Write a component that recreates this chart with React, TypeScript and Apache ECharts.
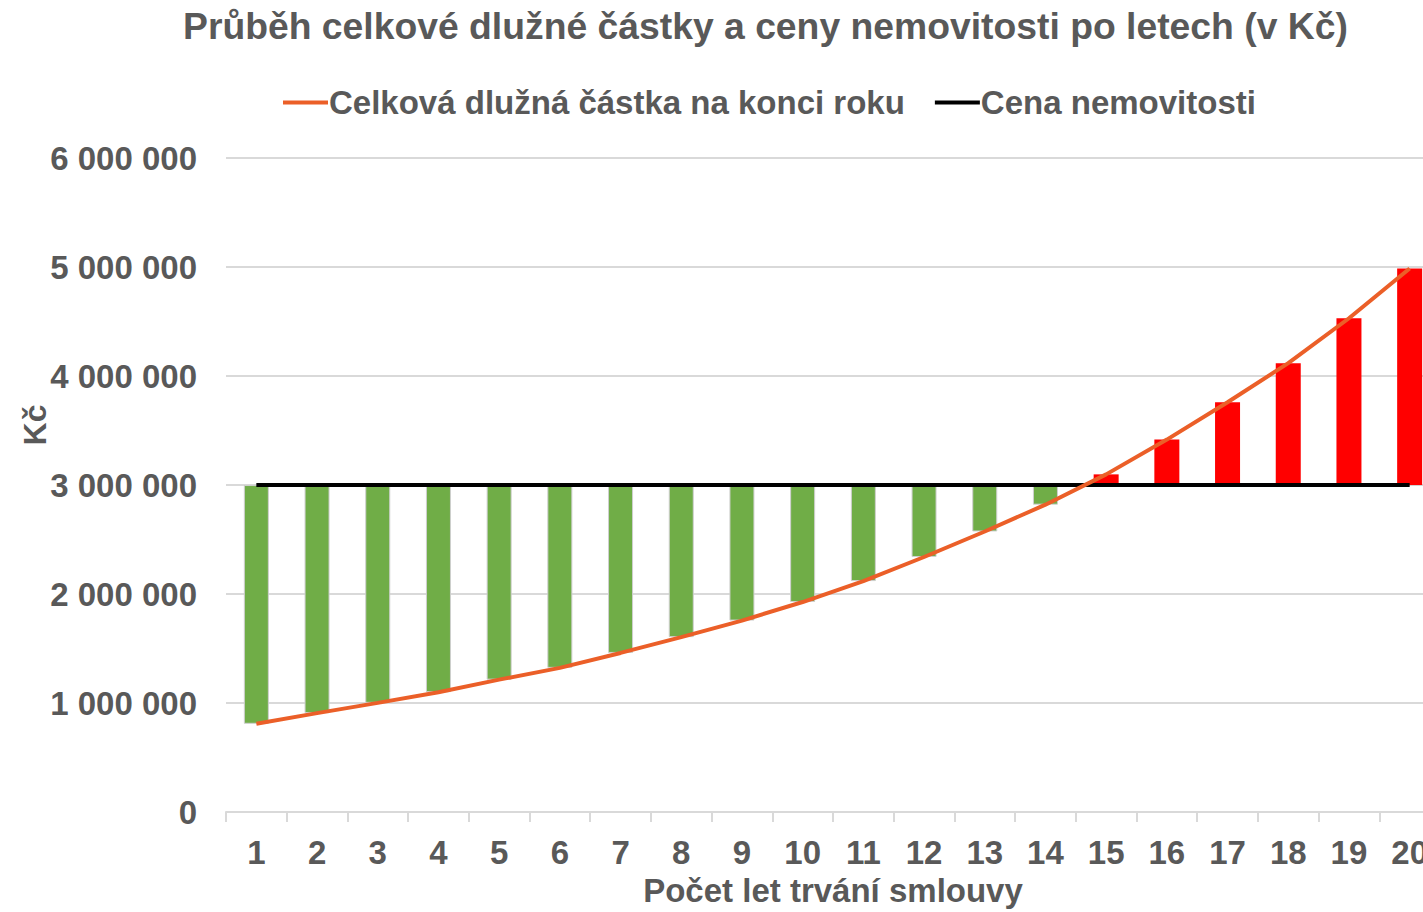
import React, { useEffect, useRef } from "react";
import * as echarts from "echarts";

const years = ["1","2","3","4","5","6","7","8","9","10","11","12","13","14","15","16","17","18","19","20"];
const debt = [810000, 908000, 1002000, 1100000, 1215000, 1323000, 1460000, 1605000, 1757000, 1927000, 2119000, 2340000, 2574000, 2820000, 3098000, 3417000, 3760000, 4118000, 4530000, 4987000];
const propertyPrice = [3000000, 3000000, 3000000, 3000000, 3000000, 3000000, 3000000, 3000000, 3000000, 3000000, 3000000, 3000000, 3000000, 3000000, 3000000, 3000000, 3000000, 3000000, 3000000, 3000000];
const yTicks = [0, 1000000, 2000000, 3000000, 4000000, 5000000, 6000000];

const titleText = "Průběh celkové dlužné částky a ceny nemovitosti po letech (v Kč)";
const debtName = "Celková dlužná částka na konci roku";
const priceName = "Cena nemovitosti";
const xName = "Počet let trvání smlouvy";
const yName = "Kč";

const FONT = "'Liberation Sans', Arial, sans-serif";
const TXT = "#595959";

export default function App() {
  const ref = useRef<HTMLDivElement>(null);
  useEffect(() => {
    if (!ref.current) return;
    document.documentElement.style.overflow = "hidden";
    document.body.style.overflow = "hidden";
    document.body.style.margin = "0";
    const chart = echarts.init(ref.current, null, { renderer: "svg", width: 1440, height: 912 });
    const base = debt.map((d, i) => Math.min(d, propertyPrice[i]));
    const green = debt.map((d, i) => (d < propertyPrice[i] ? propertyPrice[i] - d : 0));
    const red = debt.map((d, i) => (d > propertyPrice[i] ? d - propertyPrice[i] : 0));
    const fmt = (v: number) => String(v).replace(/\B(?=(\d{3})+(?!\d))/g, " ");
    chart.setOption({
      animation: false,
      textStyle: { fontFamily: FONT },
      title: {
        text: titleText,
        left: 183,
        top: 7,
        padding: 0,
        textStyle: { fontSize: 37.3, fontWeight: "bold", color: TXT, fontFamily: FONT },
      },
      legend: {
        data: [debtName, priceName],
        left: 283,
        top: 86,
        padding: 0,
        icon: "rect",
        itemWidth: 45,
        itemHeight: 4,
        itemGap: 30,
        textStyle: { fontSize: 33, fontWeight: "bold", color: TXT, fontFamily: FONT, padding: [0, 0, 0, -4] },
      },
      grid: { left: 226, right: 0, top: 158, bottom: 95, containLabel: false },
      xAxis: {
        type: "category",
        data: years,
        name: xName,
        nameLocation: "middle",
        nameGap: 59,
        nameTextStyle: { fontSize: 33, fontWeight: "bold", color: TXT, fontFamily: FONT },
        axisLine: { lineStyle: { color: "#d9d9d9", width: 2 } },
        axisTick: { show: true, length: 10, lineStyle: { color: "#d9d9d9", width: 2 } },
        axisLabel: { fontSize: 33, fontWeight: "bold", color: TXT, margin: 24, fontFamily: FONT },
      },
      yAxis: {
        type: "value",
        min: yTicks[0],
        max: yTicks[yTicks.length - 1],
        interval: 1000000,
        axisLine: { show: false },
        axisTick: { show: false },
        splitLine: { lineStyle: { color: "#d9d9d9", width: 2 } },
        axisLabel: { fontSize: 33, fontWeight: "bold", color: TXT, margin: 29, fontFamily: FONT, formatter: fmt },
      },
      graphic: [
        {
          type: "text",
          x: 35,
          y: 425,
          rotation: Math.PI / 2,
          style: {
            text: yName,
            fontSize: 32,
            fontWeight: "bold",
            fill: TXT,
            fontFamily: FONT,
            align: "center",
            verticalAlign: "middle",
          },
        },
      ],
      series: [
        {
          name: "base",
          type: "bar",
          stack: "gap",
          data: base,
          barWidth: 25,
          itemStyle: { color: "transparent" },
          silent: true,
          z: 1,
        },
        {
          name: "pod",
          type: "bar",
          stack: "gap",
          data: green,
          barWidth: 25,
          itemStyle: { color: "#70AD47", borderColor: "#cfcfcf", borderWidth: 1 },
          z: 2,
        },
        {
          name: "nad",
          type: "bar",
          stack: "gap",
          data: red,
          barWidth: 26,
          itemStyle: { color: "#FF0000" },
          z: 2,
        },
        {
          name: priceName,
          type: "line",
          data: propertyPrice,
          symbol: "none",
          lineStyle: { color: "#000000", width: 4 },
          itemStyle: { color: "#000000" },
          z: 3,
        },
        {
          name: debtName,
          type: "line",
          data: debt,
          symbol: "none",
          lineStyle: { color: "#EB5F28", width: 4 },
          itemStyle: { color: "#EB5F28" },
          z: 4,
        },
      ],
    });
    return () => chart.dispose();
  }, []);
  return (
    <div style={{ position: "fixed", left: 0, top: 0, width: 1423, height: 912, overflow: "hidden", background: "#fff" }}>
      <div ref={ref} style={{ width: 1440, height: 912 }} />
    </div>
  );
}
